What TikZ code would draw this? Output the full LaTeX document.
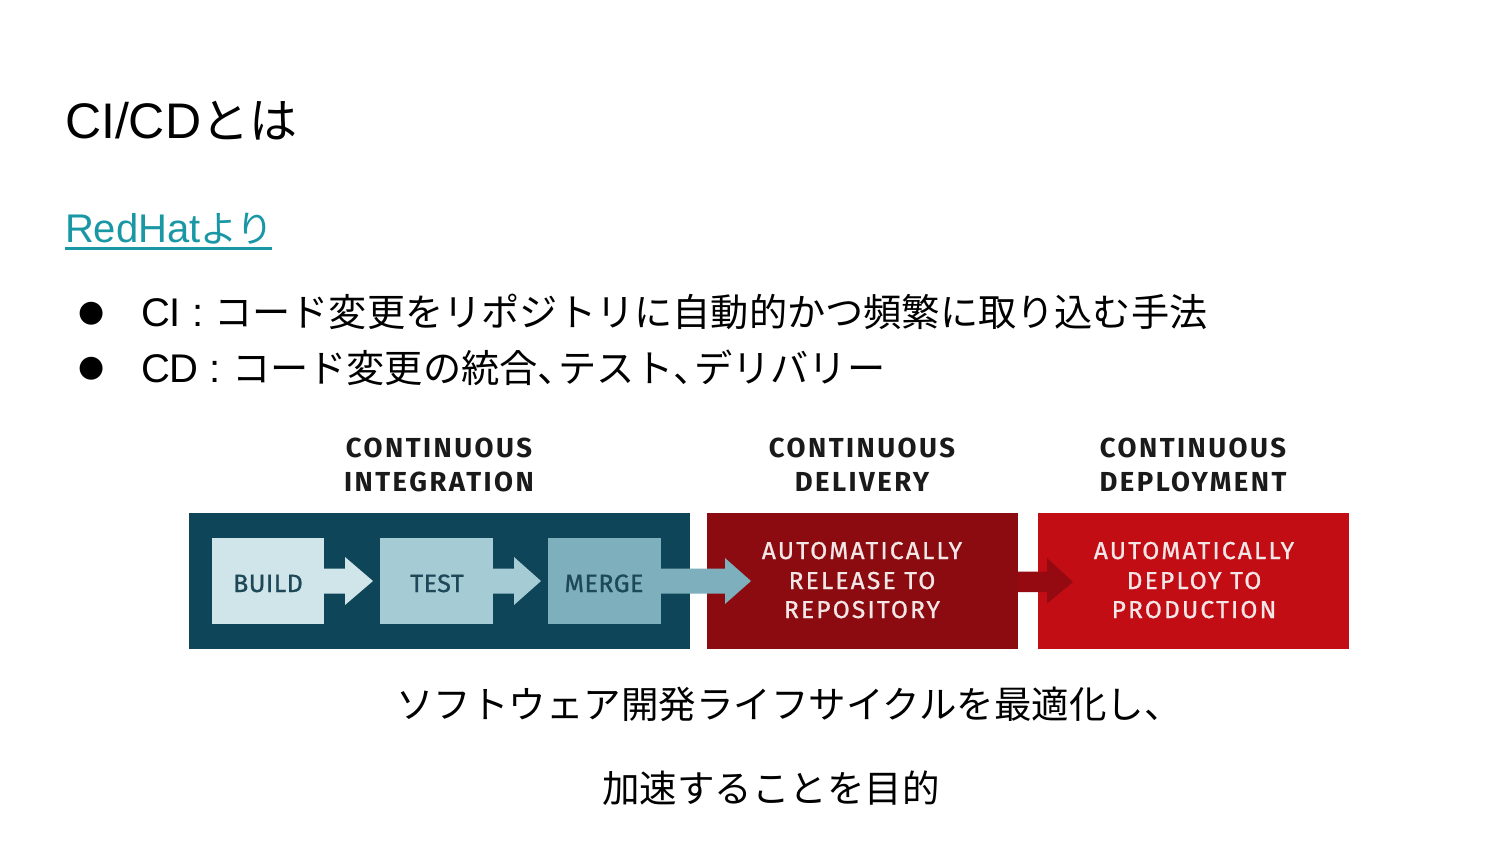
\documentclass[tikz,border=0pt]{standalone}
\usepackage{fontspec}
\setmainfont{Liberation Sans}
\newfontfamily\jp{Noto Sans CJK JP}
\newfontfamily\sym{DejaVu Sans}
\newfontfamily\dinhead[LetterSpace=9]{Fira Sans}
\newfontfamily\dinbox[LetterSpace=9,FakeBold=1]{Fira Sans}
\newfontfamily\dinlab[LetterSpace=2,FakeBold=1]{Fira Sans}
\newcommand\halfcomma{\makebox[0.55em][l]{、}}
\usetikzlibrary{calc}
\definecolor{ciblue}{HTML}{0F4558}
\definecolor{buildc}{HTML}{CFE5EA}
\definecolor{testc}{HTML}{A5CBD5}
\definecolor{mergec}{HTML}{7DAFBC}
\definecolor{redone}{HTML}{8B0B10}
\definecolor{redtwo}{HTML}{C30D15}
\definecolor{redarrow}{HTML}{940A10}
\definecolor{linkc}{HTML}{1A97A5}
\definecolor{labtext}{HTML}{1D4857}
\definecolor{redtext}{HTML}{F3E6E6}
\definecolor{headtext}{HTML}{1A1A1A}
\begin{document}
\begin{tikzpicture}[x=1pt,y=-1pt,
  txt/.style={inner sep=0pt, outer sep=0pt},
  panel/.style={draw=none, inner sep=0pt, outer sep=0pt},
  headline/.style={txt, anchor=base, text=headtext, font=\dinhead\bfseries\fontsize{27.5}{33}\selectfont},
  steplabel/.style={txt, anchor=base, text=labtext, font=\dinlab\fontsize{25}{30}\selectfont},
  redline/.style={txt, anchor=base, text=redtext, font=\dinbox\fontsize{24.5}{29}\selectfont},
  bulletglyph/.style={txt, anchor=center, font=\sym\fontsize{30}{36}\selectfont},
  bodyline/.style={txt, anchor=base west, font=\fontsize{40}{48}\selectfont},
  jpline/.style={txt, anchor=base west, font=\jp\fontsize{37.5}{45}\selectfont}
]
\fill[white] (0,0) rectangle (1500,844);
\useasboundingbox (0,0) rectangle (1500,844);

% title
\node[txt, anchor=base west, font=\fontsize{50}{60}\selectfont] (title) at (65,138)
  {CI/CD{\jp\fontsize{48}{60}\selectfont とは}};

% source link
\node[txt, anchor=base west, text=linkc, font=\fontsize{40}{48}\selectfont] (src) at (65,242)
  {RedHat{\jp\fontsize{37}{45}\selectfont より}};
\draw[linkc, line width=3pt] ([yshift=-6.5pt]src.base west) -- ([yshift=-6.5pt,xshift=-2pt]src.base east);

% bullets
\node[bulletglyph] (b1) at (92,314) {●};
\node[bodyline] (l1) at (141,326)
  {CI : {\jp\fontsize{38.2}{45}\selectfont コード変更をリポジトリに自動的かつ頻繁に取り込む手法}};
\node[bulletglyph] (b2) at (92,369) {●};
\node[bodyline] (l2) at (141,382)
  {CD : {\jp\fontsize{38.2}{45}\selectfont コード変更の統合\halfcomma テスト\halfcomma デリバリー}};

% headers
\node[headline] (h1a) at (439,457) {CONTINUOUS};
\node[headline] (h1b) at (439,491) {INTEGRATION};
\node[headline] (h2a) at (862,457) {CONTINUOUS};
\node[headline] (h2b) at (862,491) {DELIVERY};
\node[headline] (h3a) at (1193,457) {CONTINUOUS};
\node[headline] (h3b) at (1193,491) {DEPLOYMENT};

% CI panel
\node[panel, fill=ciblue, minimum width=501pt, minimum height=136pt] (ci) at (439.5,581) {};
\node[panel, fill=buildc, minimum width=112.5pt, minimum height=86pt] (build) at (267.75,581) {};
\node[panel, fill=testc, minimum width=113pt, minimum height=86pt] (test) at (436.5,581) {};
\node[panel, fill=mergec, minimum width=113pt, minimum height=86pt] (merge) at (604.5,581) {};

% arrows inside CI
\fill[buildc] ($(build.east)+(-1,-12.5)$) -- ($(build.east)+(21,-12.5)$) -- ($(build.east)+(21,-24)$)
  -- ($(test.west)+(-7,0)$) -- ($(build.east)+(21,24)$) -- ($(build.east)+(21,12.5)$)
  -- ($(build.east)+(-1,12.5)$) -- cycle;
\fill[testc] ($(test.east)+(-1,-12.5)$) -- ($(test.east)+(21,-12.5)$) -- ($(test.east)+(21,-24)$)
  -- ($(merge.west)+(-7,0)$) -- ($(test.east)+(21,24)$) -- ($(test.east)+(21,12.5)$)
  -- ($(test.east)+(-1,12.5)$) -- cycle;

% red panels
\node[panel, fill=redone, minimum width=311pt, minimum height=136pt] (cd) at (862.5,581) {};
\node[panel, fill=redtwo, minimum width=311pt, minimum height=136pt] (cdep) at (1193.5,581) {};

% merge -> delivery arrow
\fill[mergec] ($(merge.east)+(-1,-12.5)$) -- ($(cd.west)+(18,-12.5)$) -- ($(cd.west)+(18,-23)$)
  -- ($(cd.west)+(44,0)$) -- ($(cd.west)+(18,23)$) -- ($(cd.west)+(18,12.5)$)
  -- ($(merge.east)+(-1,12.5)$) -- cycle;

% delivery -> deployment arrow
\fill[redarrow] ($(cd.east)+(0,-9.5)$) -- ($(cdep.west)+(9,-9.5)$) -- ($(cdep.west)+(9,-23)$)
  -- ($(cdep.west)+(35,1)$) -- ($(cdep.west)+(9,22.5)$) -- ($(cdep.west)+(9,11)$)
  -- ($(cd.east)+(0,11)$) -- cycle;

% step labels
\node[steplabel] (buildt) at (268,592) {BUILD};
\node[steplabel] (testt) at (437,592) {TEST};
\node[steplabel] (merget) at (604,592) {MERGE};

% red texts
\node[redline] (cd1) at (862,559) {AUTOMATICALLY};
\node[redline] (cd2) at (862,589) {RELEASE TO};
\node[redline] (cd3) at (862,618) {REPOSITORY};
\node[redline] (cp1) at (1194,559) {AUTOMATICALLY};
\node[redline] (cp2) at (1194,589) {DEPLOY TO};
\node[redline] (cp3) at (1194,618) {PRODUCTION};

% bottom text
\node[jpline] (s1) at (396,718) {ソフトウェア開発ライフサイクルを最適化し、};
\node[jpline] (s2) at (602,802) {加速することを目的};
\end{tikzpicture}
\end{document}
